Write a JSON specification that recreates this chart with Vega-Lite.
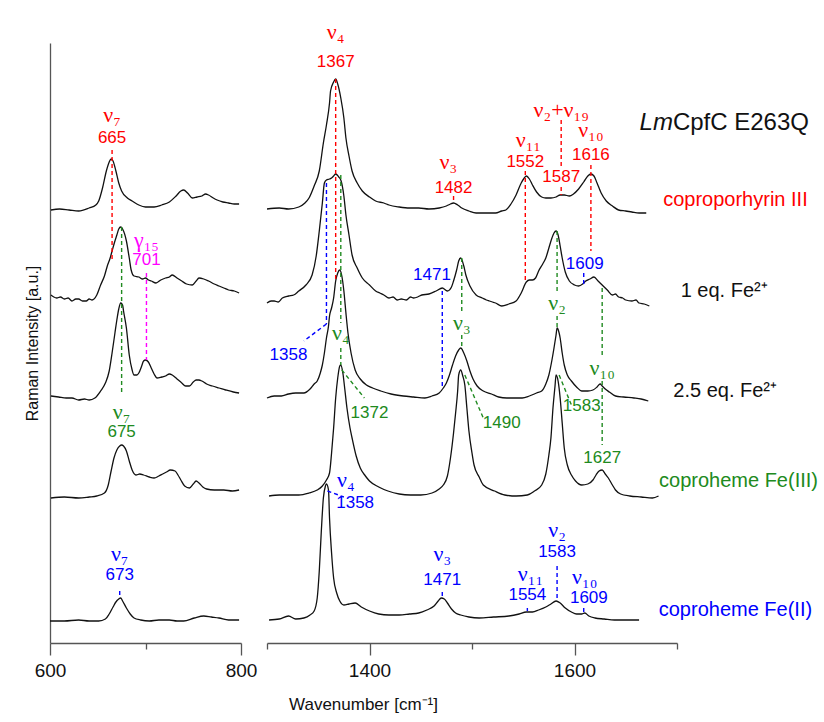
{
"$schema": "https://vega.github.io/schema/vega-lite/v6.json",
"background": "white",
"padding": {"left": 24, "top": 21, "right": 0, "bottom": 5},
"bounds": "flush",
"spacing": 26,
"config": {"view": {"stroke": null}, "font": "Liberation Sans"},
"datasets": {
"specL": [
{"s":"CPIII","x":601,"y":433},{"s":"CPIII","x":610,"y":434},{"s":"CPIII","x":620,"y":433},{"s":"CPIII","x":630,"y":432},{"s":"CPIII","x":641,"y":435},{"s":"CPIII","x":648,"y":438},{"s":"CPIII","x":651,"y":442},{"s":"CPIII","x":655,"y":455},{"s":"CPIII","x":659,"y":472},{"s":"CPIII","x":662,"y":481},{"s":"CPIII","x":664,"y":484},{"s":"CPIII","x":666,"y":482},{"s":"CPIII","x":669,"y":472},{"s":"CPIII","x":672,"y":460},{"s":"CPIII","x":675,"y":452},{"s":"CPIII","x":681,"y":445},{"s":"CPIII","x":686,"y":442},{"s":"CPIII","x":693,"y":438},{"s":"CPIII","x":700,"y":436},{"s":"CPIII","x":709,"y":436},{"s":"CPIII","x":717,"y":438},{"s":"CPIII","x":725,"y":441},{"s":"CPIII","x":732,"y":447},{"s":"CPIII","x":737,"y":452},{"s":"CPIII","x":740,"y":453},{"s":"CPIII","x":744,"y":450},{"s":"CPIII","x":749,"y":445},{"s":"CPIII","x":754,"y":446},{"s":"CPIII","x":759,"y":447},{"s":"CPIII","x":763,"y":449},{"s":"CPIII","x":766,"y":448},{"s":"CPIII","x":771,"y":445},{"s":"CPIII","x":775,"y":443},{"s":"CPIII","x":781,"y":441},{"s":"CPIII","x":787,"y":440},{"s":"CPIII","x":793,"y":439},{"s":"CPIII","x":798,"y":439},
{"s":"1eq","x":601,"y":348},{"s":"1eq","x":604,"y":346},{"s":"1eq","x":607,"y":345},{"s":"1eq","x":611,"y":346},{"s":"1eq","x":615,"y":344},{"s":"1eq","x":619,"y":345},{"s":"1eq","x":623,"y":342},{"s":"1eq","x":627,"y":344},{"s":"1eq","x":630,"y":344},{"s":"1eq","x":634,"y":342},{"s":"1eq","x":638,"y":342},{"s":"1eq","x":641,"y":344},{"s":"1eq","x":644,"y":343},{"s":"1eq","x":649,"y":348},{"s":"1eq","x":653,"y":358},{"s":"1eq","x":657,"y":367},{"s":"1eq","x":660,"y":377},{"s":"1eq","x":663,"y":385},{"s":"1eq","x":665,"y":392},{"s":"1eq","x":668,"y":402},{"s":"1eq","x":670,"y":408},{"s":"1eq","x":672,"y":414},{"s":"1eq","x":674,"y":416},{"s":"1eq","x":676,"y":414},{"s":"1eq","x":680,"y":402},{"s":"1eq","x":683,"y":385},{"s":"1eq","x":685,"y":373},{"s":"1eq","x":688,"y":367},{"s":"1eq","x":693,"y":366},{"s":"1eq","x":697,"y":364},{"s":"1eq","x":700,"y":365},{"s":"1eq","x":703,"y":363},{"s":"1eq","x":706,"y":362},{"s":"1eq","x":711,"y":360},{"s":"1eq","x":716,"y":363},{"s":"1eq","x":721,"y":365},{"s":"1eq","x":725,"y":366},{"s":"1eq","x":728,"y":368},{"s":"1eq","x":733,"y":365},{"s":"1eq","x":738,"y":362},{"s":"1eq","x":743,"y":359},{"s":"1eq","x":749,"y":358},{"s":"1eq","x":753,"y":362},{"s":"1eq","x":756,"y":365},{"s":"1eq","x":761,"y":364},{"s":"1eq","x":766,"y":362},{"s":"1eq","x":772,"y":359},{"s":"1eq","x":777,"y":357},{"s":"1eq","x":782,"y":355},{"s":"1eq","x":787,"y":353},{"s":"1eq","x":793,"y":352},{"s":"1eq","x":798,"y":350},
{"s":"2.5eq","x":601,"y":247},{"s":"2.5eq","x":609,"y":246},{"s":"2.5eq","x":617,"y":245},{"s":"2.5eq","x":623,"y":245},{"s":"2.5eq","x":630,"y":243},{"s":"2.5eq","x":636,"y":244},{"s":"2.5eq","x":641,"y":243},{"s":"2.5eq","x":647,"y":245},{"s":"2.5eq","x":653,"y":252},{"s":"2.5eq","x":658,"y":260},{"s":"2.5eq","x":662,"y":272},{"s":"2.5eq","x":665,"y":290},{"s":"2.5eq","x":668,"y":310},{"s":"2.5eq","x":670,"y":323},{"s":"2.5eq","x":672,"y":334},{"s":"2.5eq","x":674,"y":340},{"s":"2.5eq","x":676,"y":338},{"s":"2.5eq","x":677,"y":332},{"s":"2.5eq","x":680,"y":315},{"s":"2.5eq","x":683,"y":288},{"s":"2.5eq","x":686,"y":273},{"s":"2.5eq","x":688,"y":268},{"s":"2.5eq","x":691,"y":268},{"s":"2.5eq","x":693,"y":270},{"s":"2.5eq","x":696,"y":277},{"s":"2.5eq","x":698,"y":282},{"s":"2.5eq","x":700,"y":283},{"s":"2.5eq","x":703,"y":281},{"s":"2.5eq","x":706,"y":275},{"s":"2.5eq","x":709,"y":269},{"s":"2.5eq","x":712,"y":265},{"s":"2.5eq","x":717,"y":266},{"s":"2.5eq","x":721,"y":267},{"s":"2.5eq","x":725,"y":269},{"s":"2.5eq","x":728,"y":268},{"s":"2.5eq","x":733,"y":264},{"s":"2.5eq","x":738,"y":260},{"s":"2.5eq","x":742,"y":257},{"s":"2.5eq","x":746,"y":257},{"s":"2.5eq","x":750,"y":261},{"s":"2.5eq","x":753,"y":263},{"s":"2.5eq","x":756,"y":263},{"s":"2.5eq","x":759,"y":262},{"s":"2.5eq","x":764,"y":259},{"s":"2.5eq","x":770,"y":257},{"s":"2.5eq","x":777,"y":255},{"s":"2.5eq","x":784,"y":253},{"s":"2.5eq","x":792,"y":251},{"s":"2.5eq","x":798,"y":250},
{"s":"FeIII","x":601,"y":145},{"s":"FeIII","x":615,"y":146},{"s":"FeIII","x":630,"y":145},{"s":"FeIII","x":641,"y":146},{"s":"FeIII","x":649,"y":147},{"s":"FeIII","x":657,"y":150},{"s":"FeIII","x":661,"y":158},{"s":"FeIII","x":664,"y":172},{"s":"FeIII","x":667,"y":185},{"s":"FeIII","x":670,"y":193},{"s":"FeIII","x":673,"y":197},{"s":"FeIII","x":675,"y":198},{"s":"FeIII","x":677,"y":197},{"s":"FeIII","x":680,"y":192},{"s":"FeIII","x":683,"y":182},{"s":"FeIII","x":686,"y":173},{"s":"FeIII","x":690,"y":168},{"s":"FeIII","x":694,"y":169},{"s":"FeIII","x":698,"y":168},{"s":"FeIII","x":704,"y":166},{"s":"FeIII","x":709,"y":165},{"s":"FeIII","x":714,"y":167},{"s":"FeIII","x":718,"y":169},{"s":"FeIII","x":722,"y":171},{"s":"FeIII","x":726,"y":173},{"s":"FeIII","x":731,"y":172},{"s":"FeIII","x":734,"y":168},{"s":"FeIII","x":737,"y":163},{"s":"FeIII","x":741,"y":157},{"s":"FeIII","x":746,"y":155},{"s":"FeIII","x":750,"y":159},{"s":"FeIII","x":753,"y":162},{"s":"FeIII","x":756,"y":160},{"s":"FeIII","x":760,"y":156},{"s":"FeIII","x":764,"y":154},{"s":"FeIII","x":772,"y":153},{"s":"FeIII","x":782,"y":153},{"s":"FeIII","x":791,"y":152},{"s":"FeIII","x":798,"y":153},
{"s":"FeII","x":600,"y":22},{"s":"FeII","x":615,"y":22},{"s":"FeII","x":630,"y":23},{"s":"FeII","x":641,"y":22},{"s":"FeII","x":651,"y":22},{"s":"FeII","x":658,"y":24},{"s":"FeII","x":662,"y":29},{"s":"FeII","x":666,"y":36},{"s":"FeII","x":669,"y":41},{"s":"FeII","x":672,"y":44},{"s":"FeII","x":674,"y":45},{"s":"FeII","x":676,"y":42},{"s":"FeII","x":680,"y":35},{"s":"FeII","x":684,"y":29},{"s":"FeII","x":688,"y":25},{"s":"FeII","x":695,"y":23},{"s":"FeII","x":704,"y":22},{"s":"FeII","x":714,"y":23},{"s":"FeII","x":725,"y":23},{"s":"FeII","x":733,"y":22},{"s":"FeII","x":740,"y":22},{"s":"FeII","x":751,"y":25},{"s":"FeII","x":761,"y":27},{"s":"FeII","x":769,"y":26},{"s":"FeII","x":777,"y":25},{"s":"FeII","x":787,"y":23},{"s":"FeII","x":798,"y":23}
],
"specR": [
{"s":"CPIII","x":1300,"y":434},{"s":"CPIII","x":1312,"y":435},{"s":"CPIII","x":1321,"y":434},{"s":"CPIII","x":1331,"y":436},{"s":"CPIII","x":1337,"y":440},{"s":"CPIII","x":1341,"y":445},{"s":"CPIII","x":1346,"y":457},{"s":"CPIII","x":1351,"y":472},{"s":"CPIII","x":1355,"y":500},{"s":"CPIII","x":1358,"y":518},{"s":"CPIII","x":1361,"y":540},{"s":"CPIII","x":1362,"y":552},{"s":"CPIII","x":1365,"y":561},{"s":"CPIII","x":1367,"y":564},{"s":"CPIII","x":1369,"y":559},{"s":"CPIII","x":1372,"y":545},{"s":"CPIII","x":1375,"y":525},{"s":"CPIII","x":1377,"y":505},{"s":"CPIII","x":1380,"y":487},{"s":"CPIII","x":1383,"y":472},{"s":"CPIII","x":1388,"y":460},{"s":"CPIII","x":1393,"y":452},{"s":"CPIII","x":1400,"y":446},{"s":"CPIII","x":1406,"y":442},{"s":"CPIII","x":1414,"y":440},{"s":"CPIII","x":1419,"y":438},{"s":"CPIII","x":1429,"y":436},{"s":"CPIII","x":1439,"y":435},{"s":"CPIII","x":1448,"y":435},{"s":"CPIII","x":1458,"y":434},{"s":"CPIII","x":1468,"y":435},{"s":"CPIII","x":1475,"y":437},{"s":"CPIII","x":1479,"y":439},{"s":"CPIII","x":1482,"y":440},{"s":"CPIII","x":1486,"y":438},{"s":"CPIII","x":1490,"y":435},{"s":"CPIII","x":1497,"y":432},{"s":"CPIII","x":1504,"y":430},{"s":"CPIII","x":1514,"y":430},{"s":"CPIII","x":1523,"y":430},{"s":"CPIII","x":1529,"y":432},{"s":"CPIII","x":1533,"y":433},{"s":"CPIII","x":1538,"y":439},{"s":"CPIII","x":1543,"y":448},{"s":"CPIII","x":1548,"y":460},{"s":"CPIII","x":1551,"y":465},{"s":"CPIII","x":1553,"y":467},{"s":"CPIII","x":1556,"y":464},{"s":"CPIII","x":1559,"y":458},{"s":"CPIII","x":1563,"y":451},{"s":"CPIII","x":1568,"y":446},{"s":"CPIII","x":1572,"y":445},{"s":"CPIII","x":1577,"y":445},{"s":"CPIII","x":1582,"y":446},{"s":"CPIII","x":1586,"y":448},{"s":"CPIII","x":1590,"y":448},{"s":"CPIII","x":1595,"y":447},{"s":"CPIII","x":1599,"y":449},{"s":"CPIII","x":1604,"y":454},{"s":"CPIII","x":1609,"y":461},{"s":"CPIII","x":1613,"y":467},{"s":"CPIII","x":1616,"y":469},{"s":"CPIII","x":1619,"y":467},{"s":"CPIII","x":1622,"y":460},{"s":"CPIII","x":1626,"y":450},{"s":"CPIII","x":1631,"y":442},{"s":"CPIII","x":1637,"y":437},{"s":"CPIII","x":1643,"y":433},{"s":"CPIII","x":1650,"y":432},{"s":"CPIII","x":1656,"y":431},{"s":"CPIII","x":1663,"y":430},{"s":"CPIII","x":1670,"y":430},
{"s":"1eq","x":1300,"y":340},{"s":"1eq","x":1304,"y":342},{"s":"1eq","x":1307,"y":342},{"s":"1eq","x":1311,"y":341},{"s":"1eq","x":1315,"y":345},{"s":"1eq","x":1321,"y":347},{"s":"1eq","x":1326,"y":348},{"s":"1eq","x":1331,"y":352},{"s":"1eq","x":1338,"y":358},{"s":"1eq","x":1344,"y":368},{"s":"1eq","x":1348,"y":387},{"s":"1eq","x":1351,"y":412},{"s":"1eq","x":1354,"y":440},{"s":"1eq","x":1356,"y":460},{"s":"1eq","x":1358,"y":463},{"s":"1eq","x":1361,"y":464},{"s":"1eq","x":1363,"y":465},{"s":"1eq","x":1365,"y":467},{"s":"1eq","x":1367,"y":469},{"s":"1eq","x":1370,"y":466},{"s":"1eq","x":1372,"y":463},{"s":"1eq","x":1375,"y":447},{"s":"1eq","x":1377,"y":428},{"s":"1eq","x":1380,"y":408},{"s":"1eq","x":1383,"y":388},{"s":"1eq","x":1388,"y":375},{"s":"1eq","x":1393,"y":365},{"s":"1eq","x":1400,"y":358},{"s":"1eq","x":1406,"y":352},{"s":"1eq","x":1410,"y":350},{"s":"1eq","x":1414,"y":348},{"s":"1eq","x":1419,"y":345},{"s":"1eq","x":1423,"y":346},{"s":"1eq","x":1427,"y":343},{"s":"1eq","x":1431,"y":344},{"s":"1eq","x":1436,"y":343},{"s":"1eq","x":1440,"y":346},{"s":"1eq","x":1443,"y":345},{"s":"1eq","x":1447,"y":346},{"s":"1eq","x":1451,"y":348},{"s":"1eq","x":1458,"y":349},{"s":"1eq","x":1465,"y":352},{"s":"1eq","x":1471,"y":355},{"s":"1eq","x":1476,"y":352},{"s":"1eq","x":1480,"y":356},{"s":"1eq","x":1482,"y":362},{"s":"1eq","x":1485,"y":373},{"s":"1eq","x":1487,"y":382},{"s":"1eq","x":1489,"y":385},{"s":"1eq","x":1492,"y":377},{"s":"1eq","x":1494,"y":368},{"s":"1eq","x":1498,"y":357},{"s":"1eq","x":1504,"y":348},{"s":"1eq","x":1510,"y":345},{"s":"1eq","x":1514,"y":343},{"s":"1eq","x":1517,"y":342},{"s":"1eq","x":1520,"y":341},{"s":"1eq","x":1523,"y":340},{"s":"1eq","x":1529,"y":337},{"s":"1eq","x":1536,"y":339},{"s":"1eq","x":1543,"y":342},{"s":"1eq","x":1548,"y":350},{"s":"1eq","x":1553,"y":361},{"s":"1eq","x":1556,"y":363},{"s":"1eq","x":1559,"y":363},{"s":"1eq","x":1562,"y":365},{"s":"1eq","x":1565,"y":372},{"s":"1eq","x":1569,"y":379},{"s":"1eq","x":1572,"y":385},{"s":"1eq","x":1575,"y":395},{"s":"1eq","x":1578,"y":405},{"s":"1eq","x":1580,"y":410},{"s":"1eq","x":1582,"y":412},{"s":"1eq","x":1584,"y":408},{"s":"1eq","x":1586,"y":397},{"s":"1eq","x":1588,"y":385},{"s":"1eq","x":1591,"y":371},{"s":"1eq","x":1595,"y":362},{"s":"1eq","x":1600,"y":358},{"s":"1eq","x":1604,"y":357},{"s":"1eq","x":1608,"y":359},{"s":"1eq","x":1611,"y":362},{"s":"1eq","x":1615,"y":364},{"s":"1eq","x":1619,"y":366},{"s":"1eq","x":1623,"y":362},{"s":"1eq","x":1627,"y":358},{"s":"1eq","x":1632,"y":353},{"s":"1eq","x":1637,"y":348},{"s":"1eq","x":1640,"y":349},{"s":"1eq","x":1643,"y":346},{"s":"1eq","x":1647,"y":345},{"s":"1eq","x":1650,"y":343},{"s":"1eq","x":1656,"y":342},{"s":"1eq","x":1660,"y":343},{"s":"1eq","x":1663,"y":340},{"s":"1eq","x":1668,"y":339},{"s":"1eq","x":1673,"y":337},
{"s":"2.5eq","x":1300,"y":245},{"s":"2.5eq","x":1307,"y":247},{"s":"2.5eq","x":1314,"y":247},{"s":"2.5eq","x":1321,"y":249},{"s":"2.5eq","x":1328,"y":250},{"s":"2.5eq","x":1336,"y":250},{"s":"2.5eq","x":1342,"y":254},{"s":"2.5eq","x":1346,"y":259},{"s":"2.5eq","x":1349,"y":262},{"s":"2.5eq","x":1352,"y":270},{"s":"2.5eq","x":1354,"y":278},{"s":"2.5eq","x":1356,"y":290},{"s":"2.5eq","x":1358,"y":305},{"s":"2.5eq","x":1360,"y":317},{"s":"2.5eq","x":1361,"y":327},{"s":"2.5eq","x":1363,"y":335},{"s":"2.5eq","x":1365,"y":345},{"s":"2.5eq","x":1367,"y":362},{"s":"2.5eq","x":1369,"y":370},{"s":"2.5eq","x":1371,"y":373},{"s":"2.5eq","x":1373,"y":367},{"s":"2.5eq","x":1375,"y":352},{"s":"2.5eq","x":1377,"y":330},{"s":"2.5eq","x":1379,"y":310},{"s":"2.5eq","x":1382,"y":290},{"s":"2.5eq","x":1386,"y":273},{"s":"2.5eq","x":1391,"y":264},{"s":"2.5eq","x":1397,"y":258},{"s":"2.5eq","x":1403,"y":255},{"s":"2.5eq","x":1411,"y":252},{"s":"2.5eq","x":1421,"y":249},{"s":"2.5eq","x":1433,"y":247},{"s":"2.5eq","x":1443,"y":246},{"s":"2.5eq","x":1454,"y":245},{"s":"2.5eq","x":1461,"y":247},{"s":"2.5eq","x":1468,"y":250},{"s":"2.5eq","x":1472,"y":255},{"s":"2.5eq","x":1475,"y":260},{"s":"2.5eq","x":1478,"y":268},{"s":"2.5eq","x":1481,"y":278},{"s":"2.5eq","x":1484,"y":287},{"s":"2.5eq","x":1487,"y":293},{"s":"2.5eq","x":1489,"y":295},{"s":"2.5eq","x":1492,"y":290},{"s":"2.5eq","x":1495,"y":282},{"s":"2.5eq","x":1498,"y":272},{"s":"2.5eq","x":1501,"y":264},{"s":"2.5eq","x":1505,"y":257},{"s":"2.5eq","x":1511,"y":252},{"s":"2.5eq","x":1519,"y":249},{"s":"2.5eq","x":1526,"y":246},{"s":"2.5eq","x":1534,"y":245},{"s":"2.5eq","x":1542,"y":245},{"s":"2.5eq","x":1549,"y":245},{"s":"2.5eq","x":1556,"y":247},{"s":"2.5eq","x":1563,"y":250},{"s":"2.5eq","x":1568,"y":252},{"s":"2.5eq","x":1572,"y":259},{"s":"2.5eq","x":1575,"y":268},{"s":"2.5eq","x":1578,"y":283},{"s":"2.5eq","x":1580,"y":295},{"s":"2.5eq","x":1582,"y":308},{"s":"2.5eq","x":1583,"y":315},{"s":"2.5eq","x":1585,"y":310},{"s":"2.5eq","x":1586,"y":305},{"s":"2.5eq","x":1588,"y":290},{"s":"2.5eq","x":1590,"y":278},{"s":"2.5eq","x":1593,"y":268},{"s":"2.5eq","x":1597,"y":262},{"s":"2.5eq","x":1602,"y":256},{"s":"2.5eq","x":1607,"y":252},{"s":"2.5eq","x":1613,"y":252},{"s":"2.5eq","x":1618,"y":253},{"s":"2.5eq","x":1622,"y":256},{"s":"2.5eq","x":1625,"y":259},{"s":"2.5eq","x":1627,"y":257},{"s":"2.5eq","x":1630,"y":254},{"s":"2.5eq","x":1634,"y":251},{"s":"2.5eq","x":1640,"y":247},{"s":"2.5eq","x":1648,"y":246},{"s":"2.5eq","x":1658,"y":245},{"s":"2.5eq","x":1665,"y":244},{"s":"2.5eq","x":1672,"y":242},
{"s":"FeIII","x":1302,"y":147},{"s":"FeIII","x":1312,"y":148},{"s":"FeIII","x":1321,"y":148},{"s":"FeIII","x":1331,"y":148},{"s":"FeIII","x":1341,"y":150},{"s":"FeIII","x":1349,"y":153},{"s":"FeIII","x":1354,"y":157},{"s":"FeIII","x":1358,"y":163},{"s":"FeIII","x":1361,"y":170},{"s":"FeIII","x":1363,"y":190},{"s":"FeIII","x":1365,"y":215},{"s":"FeIII","x":1367,"y":245},{"s":"FeIII","x":1369,"y":265},{"s":"FeIII","x":1371,"y":277},{"s":"FeIII","x":1372,"y":278},{"s":"FeIII","x":1374,"y":270},{"s":"FeIII","x":1376,"y":253},{"s":"FeIII","x":1378,"y":235},{"s":"FeIII","x":1381,"y":215},{"s":"FeIII","x":1383,"y":205},{"s":"FeIII","x":1387,"y":187},{"s":"FeIII","x":1391,"y":175},{"s":"FeIII","x":1396,"y":167},{"s":"FeIII","x":1400,"y":162},{"s":"FeIII","x":1409,"y":156},{"s":"FeIII","x":1418,"y":152},{"s":"FeIII","x":1429,"y":149},{"s":"FeIII","x":1440,"y":148},{"s":"FeIII","x":1450,"y":148},{"s":"FeIII","x":1461,"y":150},{"s":"FeIII","x":1468,"y":154},{"s":"FeIII","x":1472,"y":158},{"s":"FeIII","x":1476,"y":167},{"s":"FeIII","x":1479,"y":185},{"s":"FeIII","x":1482,"y":210},{"s":"FeIII","x":1484,"y":230},{"s":"FeIII","x":1486,"y":252},{"s":"FeIII","x":1487,"y":268},{"s":"FeIII","x":1489,"y":273},{"s":"FeIII","x":1491,"y":267},{"s":"FeIII","x":1493,"y":258},{"s":"FeIII","x":1495,"y":235},{"s":"FeIII","x":1497,"y":212},{"s":"FeIII","x":1500,"y":190},{"s":"FeIII","x":1502,"y":178},{"s":"FeIII","x":1507,"y":166},{"s":"FeIII","x":1511,"y":158},{"s":"FeIII","x":1522,"y":152},{"s":"FeIII","x":1532,"y":148},{"s":"FeIII","x":1543,"y":147},{"s":"FeIII","x":1554,"y":148},{"s":"FeIII","x":1561,"y":152},{"s":"FeIII","x":1568,"y":158},{"s":"FeIII","x":1572,"y":169},{"s":"FeIII","x":1575,"y":188},{"s":"FeIII","x":1577,"y":205},{"s":"FeIII","x":1579,"y":235},{"s":"FeIII","x":1581,"y":257},{"s":"FeIII","x":1582,"y":268},{"s":"FeIII","x":1584,"y":262},{"s":"FeIII","x":1586,"y":245},{"s":"FeIII","x":1588,"y":220},{"s":"FeIII","x":1590,"y":195},{"s":"FeIII","x":1593,"y":178},{"s":"FeIII","x":1597,"y":168},{"s":"FeIII","x":1601,"y":162},{"s":"FeIII","x":1607,"y":158},{"s":"FeIII","x":1613,"y":159},{"s":"FeIII","x":1618,"y":163},{"s":"FeIII","x":1621,"y":168},{"s":"FeIII","x":1624,"y":172},{"s":"FeIII","x":1627,"y":173},{"s":"FeIII","x":1630,"y":169},{"s":"FeIII","x":1633,"y":165},{"s":"FeIII","x":1637,"y":158},{"s":"FeIII","x":1640,"y":153},{"s":"FeIII","x":1645,"y":149},{"s":"FeIII","x":1654,"y":147},{"s":"FeIII","x":1665,"y":146},{"s":"FeIII","x":1676,"y":145},{"s":"FeIII","x":1682,"y":147},
{"s":"FeII","x":1302,"y":23},{"s":"FeII","x":1312,"y":24},{"s":"FeII","x":1321,"y":27},{"s":"FeII","x":1328,"y":24},{"s":"FeII","x":1336,"y":25},{"s":"FeII","x":1342,"y":28},{"s":"FeII","x":1346,"y":32},{"s":"FeII","x":1349,"y":45},{"s":"FeII","x":1351,"y":72},{"s":"FeII","x":1353,"y":112},{"s":"FeII","x":1355,"y":145},{"s":"FeII","x":1357,"y":157},{"s":"FeII","x":1358,"y":159},{"s":"FeII","x":1360,"y":153},{"s":"FeII","x":1361,"y":125},{"s":"FeII","x":1363,"y":90},{"s":"FeII","x":1365,"y":65},{"s":"FeII","x":1368,"y":50},{"s":"FeII","x":1371,"y":42},{"s":"FeII","x":1375,"y":38},{"s":"FeII","x":1380,"y":39},{"s":"FeII","x":1386,"y":40},{"s":"FeII","x":1392,"y":36},{"s":"FeII","x":1400,"y":32},{"s":"FeII","x":1409,"y":29},{"s":"FeII","x":1419,"y":28},{"s":"FeII","x":1429,"y":28},{"s":"FeII","x":1439,"y":29},{"s":"FeII","x":1448,"y":30},{"s":"FeII","x":1456,"y":33},{"s":"FeII","x":1463,"y":37},{"s":"FeII","x":1467,"y":42},{"s":"FeII","x":1470,"y":45},{"s":"FeII","x":1473,"y":44},{"s":"FeII","x":1476,"y":40},{"s":"FeII","x":1480,"y":34},{"s":"FeII","x":1484,"y":30},{"s":"FeII","x":1489,"y":28},{"s":"FeII","x":1497,"y":26},{"s":"FeII","x":1507,"y":25},{"s":"FeII","x":1521,"y":26},{"s":"FeII","x":1536,"y":27},{"s":"FeII","x":1546,"y":29},{"s":"FeII","x":1553,"y":31},{"s":"FeII","x":1559,"y":31},{"s":"FeII","x":1565,"y":33},{"s":"FeII","x":1572,"y":36},{"s":"FeII","x":1577,"y":39},{"s":"FeII","x":1582,"y":42},{"s":"FeII","x":1586,"y":40},{"s":"FeII","x":1591,"y":35},{"s":"FeII","x":1597,"y":31},{"s":"FeII","x":1602,"y":29},{"s":"FeII","x":1607,"y":29},{"s":"FeII","x":1610,"y":30},{"s":"FeII","x":1614,"y":27},{"s":"FeII","x":1620,"y":25},{"s":"FeII","x":1629,"y":24},{"s":"FeII","x":1639,"y":23},{"s":"FeII","x":1651,"y":23},{"s":"FeII","x":1663,"y":23}
],
"dashL": [
{"c":"porphyrin","x":665,"y":493,"x2":665,"y2":383},
{"c":"gamma","x":701,"y":370,"x2":701,"y2":283},
{"c":"FeIII","x":675,"y":416,"x2":675,"y2":248},
{"c":"FeII","x":673,"y":52,"x2":673,"y2":47}
],
"dashR": [
{"c":"porphyrin","x":1367,"y":564,"x2":1367,"y2":362},
{"c":"porphyrin","x":1482,"y":447,"x2":1482,"y2":441},
{"c":"porphyrin","x":1552,"y":472,"x2":1552,"y2":363},
{"c":"porphyrin","x":1587,"y":523,"x2":1587,"y2":477},
{"c":"porphyrin","x":1587,"y":456,"x2":1587,"y2":448},
{"c":"porphyrin","x":1616,"y":478,"x2":1616,"y2":392},
{"c":"FeII","x":1358,"y":460,"x2":1358,"y2":319},
{"c":"FeII","x":1358,"y":319,"x2":1336,"y2":302},
{"c":"FeII","x":1471,"y":352,"x2":1471,"y2":255},
{"c":"FeII","x":1609,"y":370,"x2":1609,"y2":358},
{"c":"FeII","x":1359,"y":152,"x2":1375,"y2":146},
{"c":"FeII","x":1471,"y":51,"x2":1471,"y2":47},
{"c":"FeII","x":1554,"y":35,"x2":1554,"y2":32},
{"c":"FeII","x":1583,"y":77,"x2":1583,"y2":43},
{"c":"FeII","x":1609,"y":35,"x2":1609,"y2":31},
{"c":"FeIII","x":1372,"y":468,"x2":1372,"y2":320},
{"c":"FeIII","x":1372,"y":295,"x2":1372,"y2":278},
{"c":"FeIII","x":1373,"y":273,"x2":1395,"y2":245},
{"c":"FeIII","x":1490,"y":385,"x2":1490,"y2":330},
{"c":"FeIII","x":1490,"y":308,"x2":1490,"y2":295},
{"c":"FeIII","x":1493,"y":268,"x2":1511,"y2":225},
{"c":"FeIII","x":1583,"y":412,"x2":1583,"y2":350},
{"c":"FeIII","x":1583,"y":327,"x2":1583,"y2":315},
{"c":"FeIII","x":1585,"y":268,"x2":1597,"y2":238},
{"c":"FeIII","x":1627,"y":355,"x2":1627,"y2":288},
{"c":"FeIII","x":1627,"y":262,"x2":1627,"y2":198}
],
"nuL": [
{"t":"ν₇","c":"porphyrin","x":665,"y":528},
{"t":"γ₁₅","c":"gamma","x":701,"y":403},
{"t":"ν₇","c":"FeIII","x":675,"y":231},
{"t":"ν₇","c":"FeII","x":673,"y":89}
],
"numL": [
{"t":"665","c":"porphyrin","x":665,"y":505},
{"t":"701","c":"gamma","x":701,"y":383},
{"t":"675","c":"FeIII","x":675,"y":211},
{"t":"673","c":"FeII","x":673,"y":68}
],
"nuR": [
{"t":"ν₄","c":"porphyrin","x":1367,"y":611},
{"t":"ν₃","c":"porphyrin","x":1477,"y":481},
{"t":"ν₁₁","c":"porphyrin","x":1555,"y":503},
{"t":"ν₂+ν₁₉","c":"porphyrin","x":1587,"y":533},
{"t":"ν₁₀","c":"porphyrin","x":1616,"y":513},
{"t":"ν₄","c":"FeIII","x":1372,"y":310},
{"t":"ν₃","c":"FeIII","x":1490,"y":320},
{"t":"ν₂","c":"FeIII","x":1583,"y":340},
{"t":"ν₁₀","c":"FeIII","x":1627,"y":275},
{"t":"ν₄","c":"FeII","x":1377,"y":163},
{"t":"ν₃","c":"FeII","x":1471,"y":89},
{"t":"ν₁₁","c":"FeII","x":1557,"y":69},
{"t":"ν₂","c":"FeII","x":1583,"y":113},
{"t":"ν₁₀","c":"FeII","x":1610,"y":66}
],
"numR": [
{"t":"1367","c":"porphyrin","x":1367,"y":581},
{"t":"1482","c":"porphyrin","x":1482,"y":455},
{"t":"1552","c":"porphyrin","x":1552,"y":481},
{"t":"1587","c":"porphyrin","x":1587,"y":466},
{"t":"1616","c":"porphyrin","x":1616,"y":488},
{"t":"1358","c":"FeII","x":1321,"y":288},
{"t":"1471","c":"FeII","x":1461,"y":368},
{"t":"1609","c":"FeII","x":1610,"y":379},
{"t":"1372","c":"FeIII","x":1400,"y":230},
{"t":"1490","c":"FeIII","x":1529,"y":220},
{"t":"1583","c":"FeIII","x":1607,"y":237},
{"t":"1627","c":"FeIII","x":1627,"y":185},
{"t":"1358","c":"FeII","x":1386,"y":140},
{"t":"1471","c":"FeII","x":1471,"y":63},
{"t":"1554","c":"FeII","x":1554,"y":48},
{"t":"1583","c":"FeII","x":1583,"y":91},
{"t":"1609","c":"FeII","x":1614,"y":45}
],
"samples": [
{"t":"coproporhyrin III","c":"porphyrin","x":1757,"y":443},
{"t":"1 eq. Fe²⁺","c":"titration","x":1746,"y":352},
{"t":"2.5 eq. Fe²⁺","c":"titration","x":1747,"y":252},
{"t":"coproheme Fe(III)","c":"FeIII","x":1760,"y":162},
{"t":"coproheme Fe(II)","c":"FeII","x":1757,"y":33}
],
"enzyme": [
{"a":"Lm","b":"CpfC E263Q","x":1696,"y":520}
]
},
"hconcat": [
{
"width": 191, "height": 600,
"layer": [
{"data": {"name": "specL"},
 "mark": {"type": "line", "color": "#111", "strokeWidth": 1.3, "interpolate": "monotone"},
 "encoding": {
  "x": {"field": "x", "type": "quantitative", "scale": {"domain": [600, 800], "nice": false, "zero": false},
   "axis": {"values": [600, 700, 800], "format": "d", "labelExpr": "datum.value == 700 ? '' : datum.label", "tickSize": {"condition": {"test": "datum.value == 700", "value": 6}, "value": 12}, "labelPadding": 6, "labelFontSize": 19, "labelColor": "#111", "labelFlush": false, "labelOverlap": false, "domainColor": "#555", "tickColor": "#555", "domainWidth": 1.3, "tickWidth": 1.3, "grid": false,
    "title": "Wavenumber [cm⁻¹]", "titleX": 313, "titleY": 61, "titleAlign": "center", "titleBaseline": "middle", "titleFontSize": 17, "titleFontWeight": "normal", "titleColor": "#111"}},
  "y": {"field": "y", "type": "quantitative", "scale": {"domain": [0, 600], "nice": false, "zero": false},
   "axis": {"title": "Raman Intensity [a.u.]", "labels": false, "ticks": false, "grid": false, "domainColor": "#555", "domainWidth": 1.3, "titleFontSize": 16, "titleFontWeight": "normal", "titleColor": "#111", "titlePadding": 10}},
  "detail": {"field": "s"}
 }},
{"data": {"name": "dashL"},
 "mark": {"type": "rule", "strokeDash": [4, 3], "strokeWidth": 1.4},
 "encoding": {
  "x": {"field": "x", "type": "quantitative"}, "x2": {"field": "x2"},
  "y": {"field": "y", "type": "quantitative"}, "y2": {"field": "y2"},
  "color": {"field": "c", "type": "nominal", "scale": {"domain": ["porphyrin", "FeIII", "FeII", "gamma", "titration"], "range": ["#ff0000", "#208a20", "#0000ff", "#ff00ff", "#111111"]}, "legend": null}
 }},
{"data": {"name": "nuL"},
 "mark": {"type": "text", "font": "Liberation Serif", "fontSize": 22, "baseline": "middle", "align": "center"},
 "encoding": {
  "x": {"field": "x", "type": "quantitative"}, "y": {"field": "y", "type": "quantitative"}, "text": {"field": "t"},
  "color": {"field": "c", "type": "nominal", "scale": {"domain": ["porphyrin", "FeIII", "FeII", "gamma", "titration"], "range": ["#ff0000", "#208a20", "#0000ff", "#ff00ff", "#111111"]}, "legend": null}
 }},
{"data": {"name": "numL"},
 "mark": {"type": "text", "fontSize": 17, "baseline": "middle", "align": "center"},
 "encoding": {
  "x": {"field": "x", "type": "quantitative"}, "y": {"field": "y", "type": "quantitative"}, "text": {"field": "t"},
  "color": {"field": "c", "type": "nominal", "scale": {"domain": ["porphyrin", "FeIII", "FeII", "gamma", "titration"], "range": ["#ff0000", "#208a20", "#0000ff", "#ff00ff", "#111111"]}, "legend": null}
 }}
]
},
{
"width": 410, "height": 600,
"layer": [
{"data": {"name": "specR"},
 "mark": {"type": "line", "color": "#111", "strokeWidth": 1.3, "interpolate": "monotone"},
 "encoding": {
  "x": {"field": "x", "type": "quantitative", "scale": {"domain": [1300, 1700], "nice": false, "zero": false},
   "axis": {"values": [1300, 1400, 1500, 1600, 1700], "format": "d", "labelExpr": "datum.value == 1400 || datum.value == 1600 ? datum.label : ''", "tickSize": {"condition": {"test": "datum.value == 1400 || datum.value == 1600", "value": 12}, "value": 6}, "labelPadding": 6, "labelFontSize": 19, "labelColor": "#111", "labelFlush": false, "labelOverlap": false, "domainColor": "#555", "tickColor": "#555", "domainWidth": 1.3, "tickWidth": 1.3, "grid": false, "title": null}},
  "y": {"field": "y", "type": "quantitative", "scale": {"domain": [0, 600], "nice": false, "zero": false}, "axis": null},
  "detail": {"field": "s"}
 }},
{"data": {"name": "dashR"},
 "mark": {"type": "rule", "strokeDash": [4, 3], "strokeWidth": 1.4},
 "encoding": {
  "x": {"field": "x", "type": "quantitative"}, "x2": {"field": "x2"},
  "y": {"field": "y", "type": "quantitative"}, "y2": {"field": "y2"},
  "color": {"field": "c", "type": "nominal", "scale": {"domain": ["porphyrin", "FeIII", "FeII", "gamma", "titration"], "range": ["#ff0000", "#208a20", "#0000ff", "#ff00ff", "#111111"]}, "legend": null}
 }},
{"data": {"name": "nuR"},
 "mark": {"type": "text", "font": "Liberation Serif", "fontSize": 22, "baseline": "middle", "align": "center"},
 "encoding": {
  "x": {"field": "x", "type": "quantitative"}, "y": {"field": "y", "type": "quantitative"}, "text": {"field": "t"},
  "color": {"field": "c", "type": "nominal", "scale": {"domain": ["porphyrin", "FeIII", "FeII", "gamma", "titration"], "range": ["#ff0000", "#208a20", "#0000ff", "#ff00ff", "#111111"]}, "legend": null}
 }},
{"data": {"name": "numR"},
 "mark": {"type": "text", "fontSize": 17, "baseline": "middle", "align": "center"},
 "encoding": {
  "x": {"field": "x", "type": "quantitative"}, "y": {"field": "y", "type": "quantitative"}, "text": {"field": "t"},
  "color": {"field": "c", "type": "nominal", "scale": {"domain": ["porphyrin", "FeIII", "FeII", "gamma", "titration"], "range": ["#ff0000", "#208a20", "#0000ff", "#ff00ff", "#111111"]}, "legend": null}
 }},
{"data": {"name": "samples"},
 "mark": {"type": "text", "fontSize": 20, "baseline": "middle", "align": "center"},
 "encoding": {
  "x": {"field": "x", "type": "quantitative"}, "y": {"field": "y", "type": "quantitative"}, "text": {"field": "t"},
  "color": {"field": "c", "type": "nominal", "scale": {"domain": ["porphyrin", "FeIII", "FeII", "gamma", "titration"], "range": ["#ff0000", "#208a20", "#0000ff", "#ff00ff", "#111111"]}, "legend": null}
 }},
{"data": {"name": "enzyme"},
 "mark": {"type": "text", "fontSize": 24, "fontStyle": "italic", "baseline": "middle", "align": "right", "color": "#111"},
 "encoding": {"x": {"field": "x", "type": "quantitative"}, "y": {"field": "y", "type": "quantitative"}, "text": {"field": "a"}}},
{"data": {"name": "enzyme"},
 "mark": {"type": "text", "fontSize": 24, "baseline": "middle", "align": "left", "color": "#111"},
 "encoding": {"x": {"field": "x", "type": "quantitative"}, "y": {"field": "y", "type": "quantitative"}, "text": {"field": "b"}}}
]
}
]
}
